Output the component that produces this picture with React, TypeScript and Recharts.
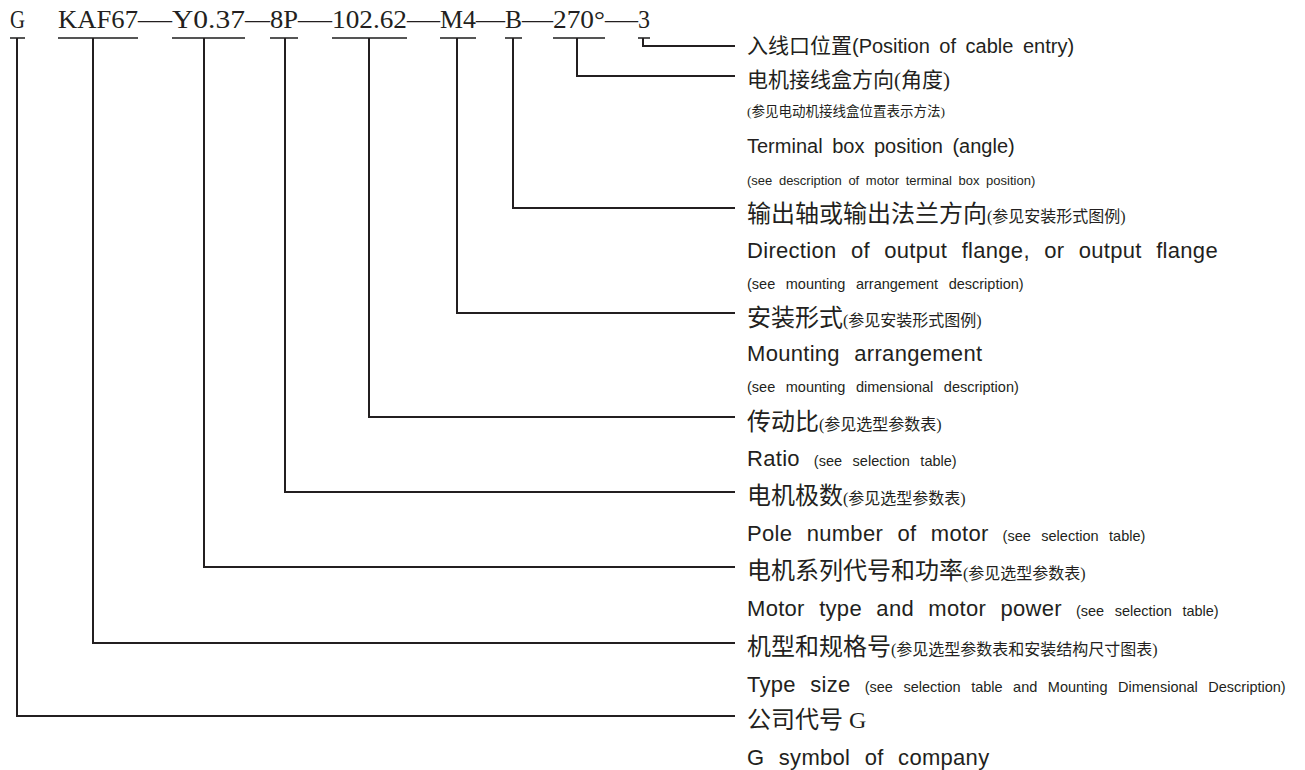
import { ComposedChart, Line, Scatter, XAxis, YAxis } from "recharts";

// model code along the top, and where each part sits
const CODE_PARTS = ["G", "KAF67", "Y0.37", "8P", "102.62", "M4", "B", "270°", "3"];
const CODE_LEFT = [10, 58, 172, 270, 332, 440, 505, 553, 638];
const CODE_RIGHT = [25, 138, 245, 298, 407, 476, 522, 605, 650];

// leader for each part: x where it drops, y of the row it runs to
const LEADER_X = [17, 93, 204, 285, 369, 457, 513, 577, 643];
const LEADER_Y = [716, 643, 567, 492, 417, 313, 208, 76, 46];

// description rows on the right
const ROW_MAIN = [
    "入线口位置",
    "电机接线盒方向(角度)",
    "",
    "Terminal box position (angle)",
    "",
    "输出轴或输出法兰方向",
    "Direction of output flange, or output flange",
    "",
    "安装形式",
    "Mounting arrangement",
    "",
    "传动比",
    "Ratio",
    "电机极数",
    "Pole number of motor",
    "电机系列代号和功率",
    "Motor type and motor power",
    "机型和规格号",
    "Type size",
    "公司代号 G",
    "G symbol of company",
];
const ROW_NOTE = [
    "(Position of cable entry)",
    "",
    "(参见电动机接线盒位置表示方法)",
    "",
    "(see description of motor terminal box position)",
    "(参见安装形式图例)",
    "",
    "(see mounting arrangement description)",
    "(参见安装形式图例)",
    "",
    "(see mounting dimensional description)",
    "(参见选型参数表)",
    "(see selection table)",
    "(参见选型参数表)",
    "(see selection table)",
    "(参见选型参数表)",
    "(see selection table)",
    "(参见选型参数表和安装结构尺寸图表)",
    "(see selection table and Mounting Dimensional Description)",
    "",
    "",
];
const ROW_Y = [45, 79, 111, 146, 180, 213, 250, 284, 317, 353, 387, 421, 458, 495, 533, 570, 608, 646, 684, 719, 757];

const W = 1305;
const H = 770;
const UNDERLINE_Y = 38;
const CODE_BASE_Y = 28;
const LEADER_END = 735;
const TEXT_X = 747;
const INK = "#231f20";

const CJK = /[\u4e00-\u9fff]/;
const SANS = "'Liberation Sans', Arial, sans-serif";
const CN = "'Liberation Serif', 'Noto Sans CJK SC', serif";

// the first few rows are set a little smaller than the rest
const TOP_ROWS = 5;
const TYPE_TOP = { cnBig: 21, cnSmall: 13.5, enBig: 20, enSmall: 13, wsBig: 4, wsSmall: 3, ls: 0 };
const TYPE_REST = { cnBig: 24, cnSmall: 16, enBig: 22, enSmall: 14.5, wsBig: 8, wsSmall: 6.5, ls: 0.3 };

const codeData = CODE_PARTS.map((label, i) => ({
    x: (CODE_LEFT[i] + CODE_RIGHT[i]) / 2,
    y: CODE_BASE_Y,
    label,
    w: CODE_RIGHT[i] - CODE_LEFT[i],
}));

const dashData = CODE_PARTS.slice(1, -1).map((_, k) => {
    const i = k + 1;
    return {
        x: (CODE_RIGHT[i] + CODE_LEFT[i + 1]) / 2,
        y: CODE_BASE_Y,
        label: "—",
        w: CODE_LEFT[i + 1] - CODE_RIGHT[i],
    };
});

const rowData = ROW_MAIN.map((main, i) => ({ x: TEXT_X, y: ROW_Y[i], main, note: ROW_NOTE[i], idx: i }));

const CodeText = (p: any) => (
    <text
        x={p.cx}
        y={p.cy}
        textAnchor="middle"
        fontFamily="'Liberation Serif', 'Times New Roman', serif"
        fontSize={26}
        fill={INK}
        textLength={p.payload.w}
        lengthAdjust="spacingAndGlyphs"
    >
        {p.payload.label}
    </text>
);

// one description row: a main phrase plus an optional note after it
const RowText = (p: any) => {
    const { main, note, idx } = p.payload;
    const t = idx < TOP_ROWS ? TYPE_TOP : TYPE_REST;
    const mainCjk = CJK.test(main);
    const noteCjk = CJK.test(note);
    const mainSize = main === "" ? (noteCjk ? t.cnSmall : t.enSmall) : mainCjk ? t.cnBig : t.enBig;
    const base = p.cy + mainSize * 0.36;
    let noteSize = noteCjk ? t.cnSmall : t.enSmall;
    if (mainCjk && !noteCjk && note) noteSize = t.enBig;
    const gap = main && !mainCjk ? 14 : 0;
    const latin = (size: number) =>
        size === t.enBig ? { wordSpacing: t.wsBig, letterSpacing: t.ls } : { wordSpacing: t.wsSmall };
    return (
        <text x={p.cx} y={base} fill={INK}>
            {main && (
                <tspan fontFamily={mainCjk ? CN : SANS} fontSize={mainSize} {...(mainCjk ? {} : latin(mainSize))}>
                    {main}
                </tspan>
            )}
            {note && (
                <tspan
                    dx={gap}
                    fontFamily={noteCjk ? CN : SANS}
                    fontSize={noteSize}
                    {...(noteCjk ? {} : latin(noteSize))}
                >
                    {note}
                </tspan>
            )}
        </text>
    );
};

export default function App() {
    return (
        <div style={{ position: "absolute", left: 0, top: 0, width: W, height: H, background: "#fff" }}>
            <ComposedChart width={W} height={H} margin={{ top: 0, right: 0, bottom: 0, left: 0 }}>
                <XAxis type="number" dataKey="x" domain={[0, W]} hide />
                <YAxis type="number" dataKey="y" domain={[0, H]} reversed hide width={0} />
                {CODE_PARTS.map((part, i) => (
                    <Line
                        key={"u" + part}
                        data={[
                            { x: CODE_LEFT[i], y: UNDERLINE_Y },
                            { x: CODE_RIGHT[i], y: UNDERLINE_Y },
                        ]}
                        dataKey="y"
                        type="linear"
                        stroke="#555"
                        strokeWidth={2}
                        dot={false}
                        activeDot={false}
                        isAnimationActive={false}
                    />
                ))}
                {CODE_PARTS.map((part, i) => (
                    <Line
                        key={"l" + part}
                        data={[
                            { x: LEADER_X[i], y: UNDERLINE_Y },
                            { x: LEADER_X[i], y: LEADER_Y[i] },
                            { x: LEADER_END, y: LEADER_Y[i] },
                        ]}
                        dataKey="y"
                        type="linear"
                        stroke={INK}
                        strokeWidth={2}
                        dot={false}
                        activeDot={false}
                        isAnimationActive={false}
                    />
                ))}
                <Scatter data={codeData} dataKey="y" shape={CodeText} isAnimationActive={false} />
                <Scatter data={dashData} dataKey="y" shape={CodeText} isAnimationActive={false} />
                <Scatter data={rowData} dataKey="y" shape={RowText} isAnimationActive={false} />
            </ComposedChart>
        </div>
    );
}
